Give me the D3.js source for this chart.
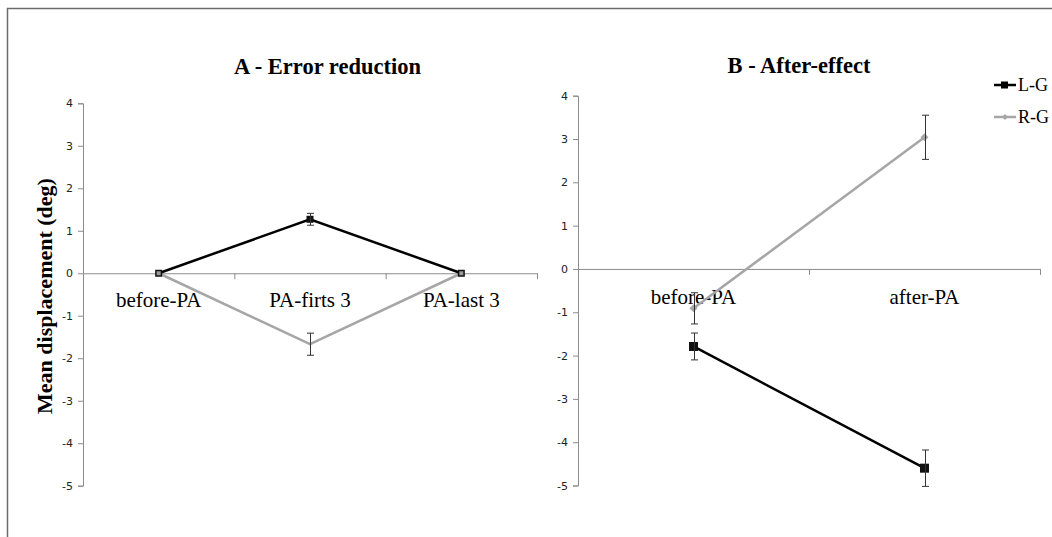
<!DOCTYPE html>
<html>
<head>
<meta charset="utf-8">
<script src="https://cdn.jsdelivr.net/npm/d3@7"></script>
<style>
  body { margin: 0; background: #fff; }
  svg { display: block; }
  .tick-label { font-family: "DejaVu Sans", sans-serif; font-size: 11px; fill: #222; }
  .cat-label { font-family: "Liberation Serif", serif; font-size: 21px; fill: #000; }
  .title { font-family: "Liberation Serif", serif; font-size: 22.5px; font-weight: bold; fill: #000; }
  .legend-text { font-family: "Liberation Serif", serif; font-size: 18px; fill: #000; }
</style>
</head>
<body>
<div id="chart"></div>
<script>
// data
var yTicks = [-5, -4, -3, -2, -1, 0, 1, 2, 3, 4];
var seriesNames = ["L-G", "R-G"];

var catsA = ["before-PA", "PA-firts 3", "PA-last 3"];
var lgA = [0, 1.27, 0];
var lgErrA = [0, 0.14, 0];
var rgA = [0, -1.67, 0];
var rgErrA = [0, 0.26, 0];

var catsB = ["before-PA", "after-PA"];
var lgB = [-1.79, -4.6];
var lgErrB = [0.31, 0.42];
var rgB = [-0.91, 3.04];
var rgErrB = [0.36, 0.51];

var W = 1052, H = 537;
var black = "#000", grey = "#a6a6a6", axisColor = "#8c8c8c";

var svg = d3.select("#chart").append("svg")
  .attr("width", W).attr("height", H);

// outer frame (clipped on right and bottom)
svg.append("path")
  .attr("d", "M7.5," + H + "V8.5H" + W)
  .attr("fill", "none").attr("stroke", "#6b6b6b").attr("stroke-width", 1.5);

function drawPanel(opts) {
  var g = svg.append("g");
  var n = opts.cats.length;
  var x = d3.scaleBand().domain(opts.cats).range([opts.x0, opts.x1]);
  var xEdge = d3.scaleLinear().domain([0, n]).range([opts.x0, opts.x1]);
  var y = d3.scaleLinear().domain([-5, 4]).range([opts.yBottom, opts.yTop]);
  var cx = function(i){ return x(opts.cats[i]) + x.bandwidth() / 2; };

  // y axis
  var yAxis = g.append("g")
    .attr("transform", "translate(" + opts.x0 + ",0)")
    .call(d3.axisLeft(y).tickValues(yTicks).tickSize(5).tickPadding(5).tickFormat(function(d){ return String(d); }));
  yAxis.select(".domain").attr("stroke", axisColor);
  yAxis.selectAll(".tick line").attr("stroke", axisColor);
  yAxis.selectAll(".tick text").attr("class", "tick-label").attr("fill", "#222");

  // x axis at zero, ticks at category edges
  var xAxis = g.append("g")
    .attr("transform", "translate(0," + y(0) + ")")
    .call(d3.axisBottom(xEdge).tickValues(d3.range(n + 1)).tickSize(6).tickFormat(""));
  xAxis.select(".domain").attr("stroke", axisColor).attr("d", "M" + opts.x0 + ",0.5H" + opts.x1);
  xAxis.selectAll(".tick line").attr("stroke", axisColor);

  // category labels
  g.selectAll("text.cat-label").data(opts.cats).enter().append("text")
    .attr("class", "cat-label")
    .attr("x", function(d, i){ return cx(i); })
    .attr("y", y(0) + opts.catDy)
    .attr("text-anchor", "middle")
    .text(function(d){ return d; });

  // title
  g.append("text").attr("class", "title")
    .attr("x", opts.titleX).attr("y", opts.titleY)
    .attr("text-anchor", "middle").text(opts.title);

  var line = d3.line().x(function(d, i){ return cx(i); }).y(function(d){ return y(d); });

  var series = [
    { vals: opts.lg, err: opts.lgErr, color: black, w: 2.5 },
    { vals: opts.rg, err: opts.rgErr, color: grey, w: 2.5 }
  ];

  series.forEach(function(s){
    g.append("path").datum(s.vals)
      .attr("d", line).attr("fill", "none")
      .attr("stroke", s.color).attr("stroke-width", s.w);
  });

  // markers: black squares for L-G
  var sq = opts.sq;
  g.selectAll("rect.m-lg").data(opts.lg).enter().append("rect")
    .attr("x", function(d, i){ return cx(i) - sq / 2; })
    .attr("y", function(d){ return y(d) - sq / 2; })
    .attr("width", sq).attr("height", sq)
    .attr("fill", "#111");

  // R-G markers: diamonds in B; in A only where both series overlap (grey core)
  var dm = opts.dm;
  opts.rg.forEach(function(v, i){
    var px = cx(i), py = y(v);
    if (opts.rgDiamond) {
      g.append("path")
        .attr("d", "M" + px + "," + (py - dm) + "L" + (px + dm) + "," + py + "L" + px + "," + (py + dm) + "L" + (px - dm) + "," + py + "Z")
        .attr("fill", grey);
    } else if (v === opts.lg[i]) {
      g.append("rect")
        .attr("x", px - sq / 2 + 1.5).attr("y", py - sq / 2 + 1.5)
        .attr("width", sq - 3).attr("height", sq - 3)
        .attr("fill", "#9a9a9a");
    }
  });

  // error bars
  series.forEach(function(s){
    s.vals.forEach(function(v, i){
      if (!s.err[i]) return;
      var px = Math.round(cx(i)) + 0.5;
      var top = y(v + s.err[i]), bot = y(v - s.err[i]);
      g.append("path")
        .attr("d", "M" + px + "," + top + "V" + bot +
          "M" + (px - 3.5) + "," + top + "H" + (px + 3.5) +
          "M" + (px - 3.5) + "," + bot + "H" + (px + 3.5))
        .attr("fill", "none").attr("stroke", "#333").attr("stroke-width", 1);
    });
  });
}

drawPanel({
  cats: catsA, lg: lgA, lgErr: lgErrA, rg: rgA, rgErr: rgErrA,
  x0: 83, x1: 537, yTop: 103.3, yBottom: 485.7,
  title: "A - Error reduction", titleX: 327.5, titleY: 73.5, catDy: 34,
  sq: 7, dm: 2.5, rgDiamond: false
});

drawPanel({
  cats: catsB, lg: lgB, lgErr: lgErrB, rg: rgB, rgErr: rgErrB,
  x0: 578, x1: 1040, yTop: 95.7, yBottom: 485.5,
  title: "B - After-effect", titleX: 799, titleY: 73, catDy: 35,
  sq: 9, dm: 4, rgDiamond: true
});

// y axis title
svg.append("text").attr("class", "title")
  .attr("transform", "translate(52,296) rotate(-90)")
  .attr("text-anchor", "middle")
  .style("font-size", "22px")
  .text("Mean displacement (deg)");

// legend
var legend = svg.append("g");
seriesNames.forEach(function(name, i){
  var ly = 85 + i * 32;
  var lg = legend.append("g");
  lg.append("line").attr("x1", 994).attr("x2", 1016).attr("y1", ly).attr("y2", ly)
    .attr("stroke", i === 0 ? black : grey).attr("stroke-width", 2.5);
  if (i === 0) {
    lg.append("rect").attr("x", 1001).attr("y", ly - 3.5).attr("width", 7).attr("height", 7).attr("fill", black);
  } else {
    lg.append("path").attr("d", "M1005," + (ly - 3) + "l3,3l-3,3l-3,-3z").attr("fill", grey);
  }
  lg.append("text").attr("class", "legend-text").attr("x", 1018).attr("y", ly + 6).text(name);
});
</script>
</body>
</html>
